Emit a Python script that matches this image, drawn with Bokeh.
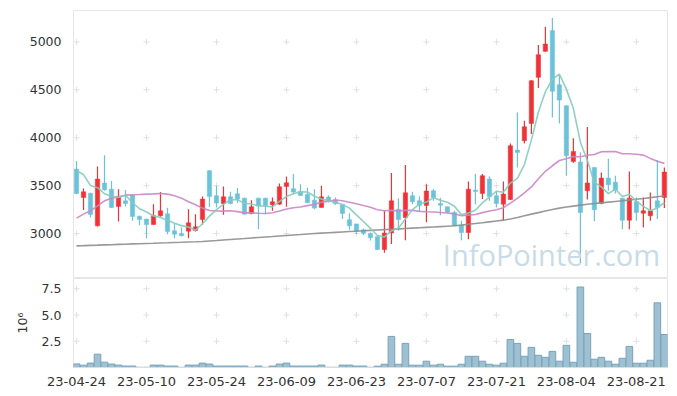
from bokeh.plotting import figure
from bokeh.layouts import column
from bokeh.models import ColumnDataSource, FixedTicker, Range1d, Label, NumeralTickFormatter
from bokeh.embed import file_html
from bokeh.resources import INLINE

# ---------------- data ----------------
open_ = [3672, 3376, 3421, 3080, 3526, 3463, 3282, 3341, 3400, 3181,
         3150, 3094, 3185, 3205, 3028, 3000, 3024, 3031, 3146, 3655,
         3394, 3313, 3383, 3414, 3369, 3209, 3369, 3369, 3300, 3306,
         3491, 3467, 3439, 3407, 3348, 3272, 3380, 3352, 3303, 3143,
         3100, 3038, 3000, 2967, 2833, 3005, 3254, 3167, 3394, 3341,
         3293, 3446, 3312, 3279, 3219, 3087, 3010, 3453, 3418, 3568,
         3394, 3306, 3355, 3871, 3968, 4149, 4630, 4902, 5118, 4553,
         4334, 3752, 3747, 3446, 3690, 3315, 3578, 3536, 3369, 3139,
         3334, 3212, 3185, 3341, 3376]
high = [3756, 3470, 3425, 3700, 3818, 3547, 3463, 3453, 3405, 3185,
        3155, 3306, 3432, 3268, 3104, 3063, 3254, 3202, 3387, 3660,
        3498, 3491, 3435, 3474, 3372, 3348, 3372, 3372, 3376, 3522,
        3596, 3620, 3515, 3481, 3463, 3498, 3400, 3376, 3306, 3210,
        3102, 3052, 3010, 2970, 3235, 3632, 3369, 3714, 3435, 3390,
        3515, 3463, 3371, 3280, 3237, 3132, 3543, 3620, 3620, 3596,
        3446, 3543, 3940, 4264, 4177, 4600, 4968, 5159, 5250, 4658,
        4340, 3993, 3846, 4112, 3692, 3637, 3780, 3603, 3372, 3648,
        3376, 3376, 3428, 3766, 3690]
low = [3410, 3244, 3167, 3073, 3446, 3265, 3125, 3282, 3132, 3087,
       2948, 3090, 3174, 2993, 2951, 2972, 2951, 3021, 3091, 3276,
       3272, 3195, 3306, 3320, 3200, 3202, 3045, 3202, 3237, 3300,
       3279, 3421, 3395, 3318, 3254, 3270, 3324, 3300, 3150, 3040,
       2995, 2983, 2928, 2829, 2798, 2889, 3028, 2930, 3306, 3223,
       3116, 3341, 3190, 3215, 3078, 2930, 2941, 3306, 3359, 3341,
       3272, 3139, 3350, 3690, 3940, 4038, 4519, 4895, 4212, 4149,
       3603, 3738, 2688, 3355, 3128, 3306, 3446, 3418, 3045, 3045,
       3132, 3063, 3132, 3150, 3265]
close = [3418, 3435, 3199, 3568, 3456, 3272, 3387, 3313, 3178, 3146,
         3094, 3185, 3237, 3021, 2993, 2976, 3111, 3070, 3359, 3387,
         3317, 3383, 3313, 3359, 3202, 3279, 3289, 3289, 3331, 3488,
         3529, 3432, 3397, 3320, 3265, 3383, 3345, 3310, 3209, 3080,
         3025, 3001, 2955, 2834, 3005, 3341, 3145, 3425, 3331, 3293,
         3444, 3376, 3296, 3222, 3080, 3010, 3463, 3439, 3603, 3387,
         3313, 3411, 3916, 3846, 4115, 4595, 4867, 4978, 4484, 4393,
         3812, 3857, 3219, 3527, 3249, 3578, 3509, 3453, 3139, 3369,
         3219, 3237, 3237, 3272, 3641]
ma5 = [3655, 3615, 3500, 3478, 3415, 3386, 3376, 3399, 3321, 3259,
       3224, 3183, 3168, 3137, 3106, 3082, 3068, 3034, 3102, 3181,
       3249, 3303, 3352, 3352, 3315, 3307, 3288, 3284, 3278, 3335,
       3385, 3414, 3435, 3433, 3389, 3359, 3342, 3325, 3302, 3265,
       3194, 3125, 3054, 2979, 2964, 3027, 3056, 3150, 3249, 3307,
       3328, 3374, 3348, 3326, 3284, 3197, 3214, 3243, 3319, 3380,
       3441, 3431, 3526, 3575, 3720, 3977, 4268, 4480, 4608, 4663,
       4507, 4305, 3953, 3762, 3533, 3486, 3416, 3463, 3386, 3410,
       3338, 3283, 3240, 3267, 3321]
ma20 = [3160, 3202, 3237, 3289, 3341, 3369, 3383, 3400, 3404, 3407,
        3411, 3414, 3418, 3411, 3394, 3369, 3331, 3300, 3265, 3240,
        3235, 3233, 3238, 3228, 3215, 3216, 3211, 3209, 3217, 3234,
        3256, 3268, 3276, 3291, 3305, 3325, 3337, 3349, 3341, 3326,
        3311, 3292, 3274, 3248, 3238, 3241, 3234, 3241, 3241, 3231,
        3227, 3224, 3219, 3214, 3205, 3186, 3192, 3199, 3218, 3234,
        3248, 3269, 3317, 3367, 3423, 3486, 3572, 3649, 3707, 3762,
        3780, 3804, 3801, 3816, 3824, 3853, 3855, 3856, 3832, 3832,
        3827, 3818, 3784, 3755, 3732]
ma60 = [2871, 2873, 2876, 2878, 2881, 2883, 2886, 2888, 2891, 2893,
        2896, 2898, 2901, 2903, 2906, 2908, 2911, 2913, 2916, 2921,
        2926, 2932, 2937, 2942, 2947, 2953, 2958, 2963, 2968, 2974,
        2979, 2984, 2989, 2995, 3000, 3004, 3008, 3012, 3016, 3020,
        3024, 3028, 3032, 3036, 3040, 3044, 3048, 3052, 3056, 3060,
        3064, 3068, 3072, 3076, 3080, 3087, 3096, 3104, 3112, 3121,
        3130, 3139, 3152, 3167, 3185, 3202, 3218, 3234, 3250, 3265,
        3276, 3286, 3296, 3306, 3313, 3320, 3327, 3334, 3341, 3349,
        3357, 3365, 3374, 3383, 3392]
volume_m = [0.34, 0.22, 0.42, 1.27, 0.51, 0.33, 0.23, 0.14, 0.14, 0.02,
            0.02, 0.23, 0.23, 0.14, 0.14, 0.02, 0.23, 0.23, 0.42, 0.33,
            0.14, 0.14, 0.14, 0.14, 0.14, 0.02, 0.14, 0.02, 0.14, 0.33,
            0.42, 0.14, 0.14, 0.14, 0.14, 0.23, 0.02, 0.02, 0.23, 0.23,
            0.14, 0.14, 0.02, 0.13, 0.31, 2.96, 0.31, 2.30, 0.22, 0.22,
            0.60, 0.22, 0.31, 0.13, 0.13, 0.31, 1.07, 1.07, 0.60, 0.31,
            0.22, 0.41, 2.67, 2.30, 1.07, 1.92, 1.16, 0.97, 1.54, 0.60,
            2.11, 0.50, 7.67, 3.24, 0.79, 0.97, 0.60, 0.31, 0.88, 2.01,
            0.41, 0.41, 0.69, 6.16, 3.14]
tick_labels = ["23-04-24", "23-05-10", "23-05-24", "23-06-09", "23-06-23",
               "23-07-07", "23-07-21", "23-08-04", "23-08-21"]
price_ticks = [3000, 3500, 4000, 4500, 5000]
volume_ticks = [2.5, 5.0, 7.5]

# ---------------- derived ----------------
n = len(close)
idx = list(range(n))
tick_idx = [i * 10 for i in range(len(tick_labels))]
UP, DOWN = "#ee3237", "#6cc2d8"
colors = [UP if c >= o else DOWN for o, c in zip(open_, close)]
src = ColumnDataSource(dict(
    x=idx, open=open_, close=close, high=high, low=low,
    top=[max(o, c) for o, c in zip(open_, close)],
    bottom=[min(o, c) for o, c in zip(open_, close)],
    color=colors, ma5=ma5, ma20=ma20, ma60=ma60, vol=volume_m))

FONT = "DejaVu Sans"
X_RANGE = Range1d(-0.43, 84.45)
LEFT = 73
W = LEFT + 594 + 1

# ---------------- price figure ----------------
p = figure(width=W, height=278, x_range=X_RANGE, y_range=(2530, 5328),
           x_axis_location=None, output_backend="svg", toolbar_location=None,
           min_border_left=LEFT, min_border_right=1, min_border_top=10,
           min_border_bottom=0)
p.grid.visible = False
p.outline_line_color = "#e6e6e6"
p.background_fill_color = "white"
p.yaxis.ticker = FixedTicker(ticks=price_ticks)
p.yaxis.axis_line_color = None
p.yaxis.major_tick_line_color = None
p.yaxis.minor_tick_line_color = None
p.yaxis.major_label_text_font = FONT
p.yaxis.major_label_text_font_size = "12.5px"
p.yaxis.major_label_text_color = "#333333"
p.yaxis.major_label_standoff = 6

# grid crosses at tick intersections
gx = [x for x in tick_idx for _ in price_ticks]
gy = [y for _ in tick_idx for y in price_ticks]
p.scatter(gx, gy, marker="cross", size=6, line_color="#e0e0e0", line_width=1)

wm = Label(x=83.4, y=2780, text="InfoPointer.com", text_align="right",
           text_baseline="alphabetic", text_font="Open Sans",
           text_font_size="29px", text_color="#c9dbe6")
p.add_layout(wm)

p.segment(x0="x", y0="high", x1="x", y1="low", color="color", line_width=1.2, source=src)
p.vbar(x="x", width=0.62, top="top", bottom="bottom", fill_color="color",
       line_color="color", line_width=0.5, source=src)
p.line("x", "ma60", source=src, line_color="#8e8e8e", line_width=1.6, line_alpha=0.9)
p.line("x", "ma20", source=src, line_color="#cc86c6", line_width=1.6, line_alpha=0.9)
p.line("x", "ma5", source=src, line_color="#86cbbd", line_width=1.6, line_alpha=0.9)

# ---------------- volume figure ----------------
v = figure(width=W, height=110, x_range=X_RANGE, y_range=(0, 8.48),
           output_backend="svg", toolbar_location=None,
           min_border_left=LEFT, min_border_right=1, min_border_top=0,
           min_border_bottom=20)
v.grid.visible = False
v.outline_line_color = "#e6e6e6"
v.vbar(x="x", width=0.95, top="vol", bottom=0, fill_color="#9dc1d2",
       line_color="#7aa3b8", line_width=1, source=src)
vgx = [x for x in tick_idx for _ in volume_ticks]
vgy = [y for _ in tick_idx for y in volume_ticks]
v.scatter(vgx, vgy, marker="cross", size=6, line_color="#e0e0e0", line_width=1)

v.yaxis.ticker = FixedTicker(ticks=volume_ticks)
v.yaxis.formatter = NumeralTickFormatter(format="0.0")
v.yaxis.axis_line_color = None
v.yaxis.major_tick_line_color = None
v.yaxis.minor_tick_line_color = None
v.yaxis.major_label_text_font = FONT
v.yaxis.major_label_text_font_size = "12.5px"
v.yaxis.major_label_text_color = "#333333"
v.yaxis.major_label_standoff = 6
v.yaxis.axis_label = "10\u2076"
v.yaxis.axis_label_text_font = FONT
v.yaxis.axis_label_text_font_style = "normal"
v.yaxis.axis_label_text_font_size = "12.5px"
v.yaxis.axis_label_text_color = "#333333"
v.yaxis.axis_label_standoff = 9

v.xaxis.ticker = FixedTicker(ticks=tick_idx)
v.xaxis.major_label_overrides = {i: t for i, t in zip(tick_idx, tick_labels)}
v.xaxis.axis_line_color = "#dddddd"
v.xaxis.major_tick_line_color = None
v.xaxis.minor_tick_line_color = None
v.xaxis.major_label_text_font = FONT
v.xaxis.major_label_text_font_size = "13px"
v.xaxis.major_label_text_color = "#333333"
v.xaxis.major_label_standoff = 3

layout = column(p, v, spacing=0)
open("out.html", "w").write(file_html(layout, INLINE))
